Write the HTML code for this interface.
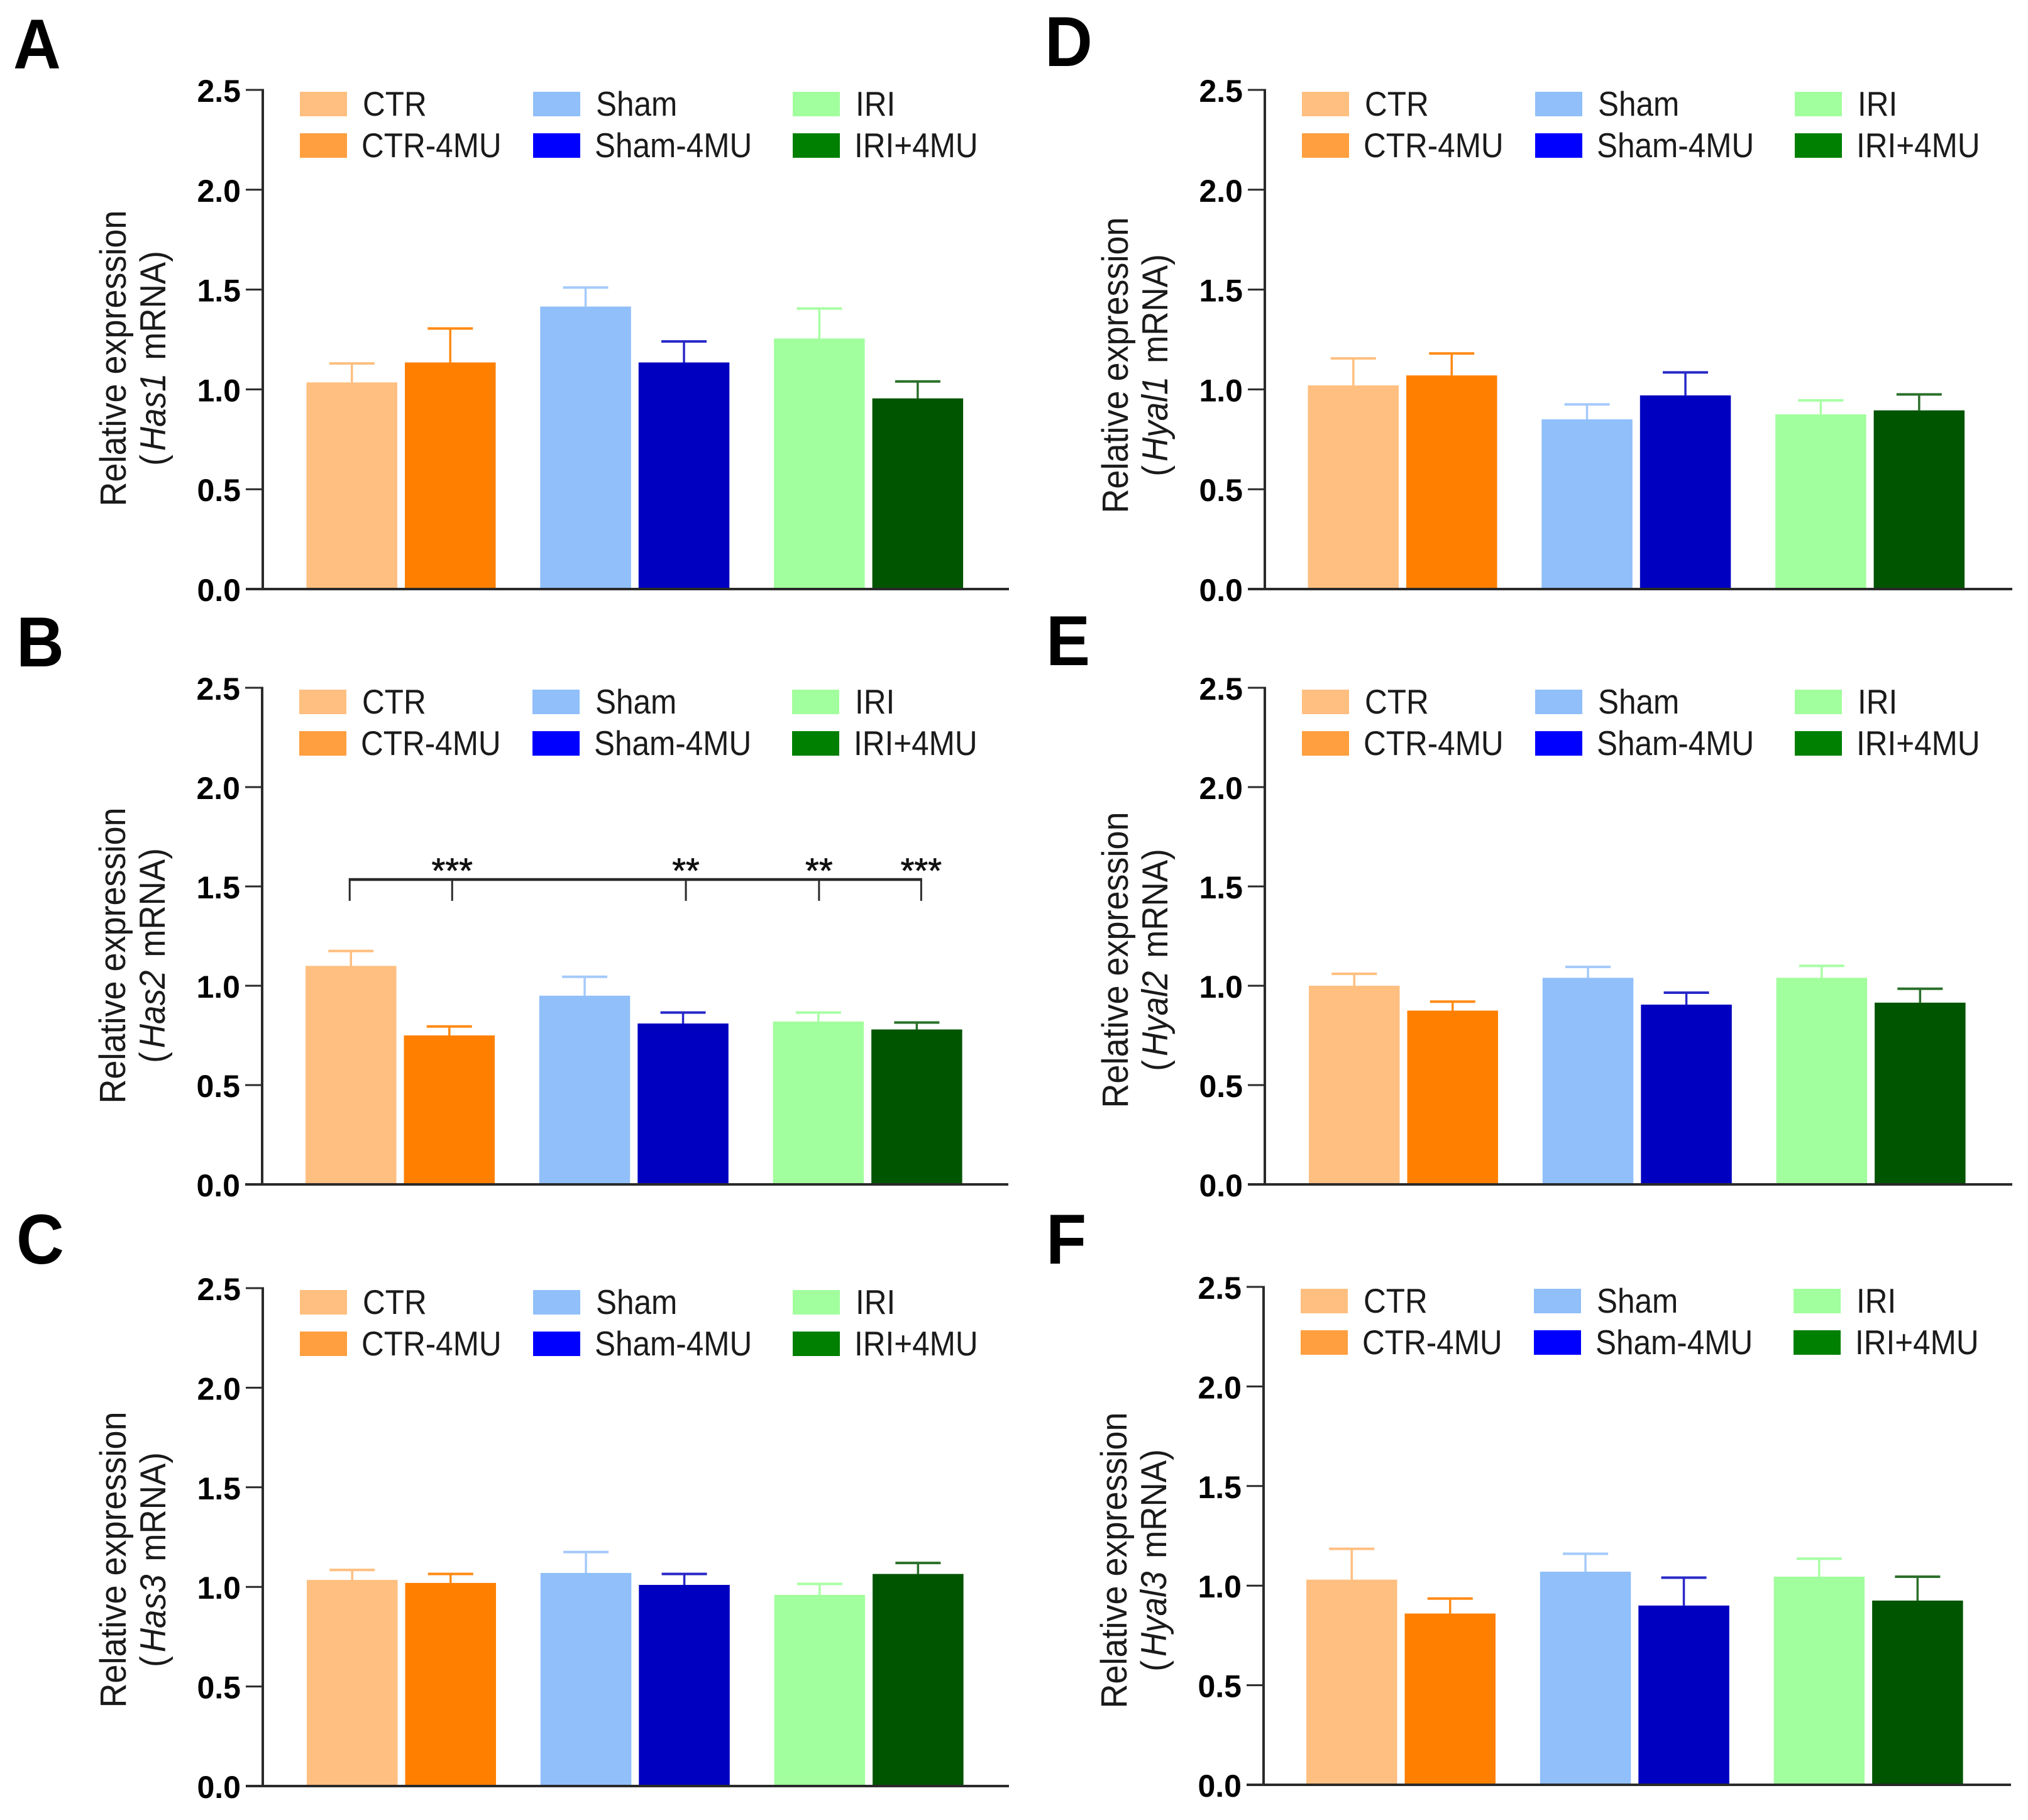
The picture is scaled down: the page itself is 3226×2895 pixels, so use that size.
<!DOCTYPE html>
<html>
<head>
<meta charset="utf-8">
<title>Relative expression of Has and Hyal mRNA</title>
<style>
html,body{margin:0;padding:0;background:#fff;width:3226px;height:2895px;overflow:hidden}
svg{display:block}
text{font-family:"Liberation Sans",sans-serif}
</style>
</head>
<body>
<svg id="figure" xmlns="http://www.w3.org/2000/svg" width="3226" height="2895" viewBox="0 0 3226 2895"></svg>
<script>
const tickLabels = ['0.0', '0.5', '1.0', '1.5', '2.0', '2.5'];
const tickValues = [0, 0.5, 1, 1.5, 2, 2.5];
const categories = ['CTR', 'CTR-4MU', 'Sham', 'Sham-4MU', 'IRI', 'IRI+4MU'];
const barColors = ['#FFBF80', '#FF8000', '#90BFFA', '#0000C0', '#A2FF9D', '#005500'];
const legendColors = ['#FFBF80', '#FF9F40', '#90BFFA', '#0000FF', '#A2FF9D', '#008000'];
const errorColors = ['#FFBF80', '#FF8A14', '#A4CAFA', '#2828C8', '#A8FFA4', '#2A702A'];
const panelLetters = ['A', 'B', 'C', 'D', 'E', 'F'];
const geneNames = ['Has1', 'Has2', 'Has3', 'Hyal1', 'Hyal2', 'Hyal3'];

const meansA = [1.035, 1.135, 1.415, 1.135, 1.255, 0.955];
const meansB = [1.10, 0.75, 0.95, 0.81, 0.82, 0.78];
const meansC = [1.035, 1.02, 1.07, 1.01, 0.96, 1.065];
const meansD = [1.02, 1.07, 0.85, 0.97, 0.875, 0.895];
const meansE = [1.00, 0.875, 1.04, 0.905, 1.04, 0.915];
const meansF = [1.03, 0.86, 1.07, 0.90, 1.045, 0.925];

const errTopA = [1.13, 1.305, 1.51, 1.24, 1.405, 1.04];
const errTopB = [1.175, 0.795, 1.045, 0.865, 0.865, 0.815];
const errTopC = [1.085, 1.065, 1.175, 1.065, 1.015, 1.12];
const errTopD = [1.155, 1.18, 0.925, 1.085, 0.945, 0.975];
const errTopE = [1.06, 0.92, 1.095, 0.965, 1.10, 0.985];
const errTopF = [1.185, 0.935, 1.16, 1.04, 1.135, 1.045];

const sigBars = [1, 3, 4, 5];
const sigLabels = ['***', '**', '**', '***'];
const sigReference = 0;
const sigLevel = 1.535;

const allMeans = [meansA, meansB, meansC, meansD, meansE, meansF];
const allErrTops = [errTopA, errTopB, errTopC, errTopD, errTopE, errTopF];

/* panel frames */
const frames = [
  {axisX: 418, top: 143, bottom: 937, right: 1605, barX: 487.5, letterX: 21, letterY: 109, titleShift: 5},
  {axisX: 417, top: 1094, bottom: 1884, right: 1604, barX: 486, letterX: 26, letterY: 1060, titleShift: 6},
  {axisX: 418, top: 2049, bottom: 2841, right: 1605, barX: 488, letterX: 26, letterY: 2010, titleShift: 11},
  {axisX: 2012, top: 143, bottom: 937, right: 3201, barX: 2080.5, letterX: 1662, letterY: 105, titleShift: 16},
  {axisX: 2012, top: 1094, bottom: 1884, right: 3201, barX: 2082, letterX: 1664, letterY: 1058, titleShift: 13},
  {axisX: 2010, top: 2047, bottom: 2839, right: 3199, barX: 2078, letterX: 1664, letterY: 2010, titleShift: 14}
];
/* hand-drawn annotation offsets of the bracket drops from their bar centres */
const sigNudge = [4.5, 4.5, 1, 7];
const sigRefNudge = -2;

const svgNS = 'http://www.w3.org/2000/svg';
const root = document.getElementById('figure');

function make(tag, attrs, parent) {
  const el = document.createElementNS(svgNS, tag);
  for (const k in attrs) el.setAttribute(k, attrs[k]);
  parent.appendChild(el);
  return el;
}

function yScale(frame, v) {
  return frame.bottom - (frame.bottom - frame.top) * v / 2.5;
}
function xScale(frame, i) {
  const group = Math.floor(i / 2);
  return frame.barX + group * 371.8 + (i % 2) * 156.5;
}
const BAR_W = 144.5;
const AXIS_COLOR = '#2a2a2a';

function drawPanel(p) {
  const f = frames[p];
  const means = allMeans[p];
  const tops = allErrTops[p];
  const g = make('g', {}, root);
  
  

  const letter = make('text', {transform: 'translate(' + f.letterX + ',' + f.letterY + ') scale(1,1.07)', 'font-size': 105, 'font-weight': 'bold', fill: '#000'}, g);
  letter.textContent = panelLetters[p];
  
  

  /* bars */
  means.forEach(function (v, i) {
    const x = xScale(f, i);
    const cx = x + BAR_W / 2;
    const errLine = make('line', {x1: cx, x2: cx, y1: yScale(f, v), y2: yScale(f, tops[i]), stroke: errorColors[i], 'stroke-width': 3.5}, g);
    
    
    const errCap = make('line', {x1: cx - 36, x2: cx + 36, y1: yScale(f, tops[i]), y2: yScale(f, tops[i]), stroke: errorColors[i], 'stroke-width': 4}, g);
    
    
    const bar = make('rect', {x: x, y: yScale(f, v), width: BAR_W, height: f.bottom - yScale(f, v), fill: barColors[i]}, g);
    
    
  });

  /* axes */
  const yAxis = make('line', {x1: f.axisX, x2: f.axisX, y1: f.top - 1.5, y2: f.bottom, stroke: AXIS_COLOR, 'stroke-width': 4}, g);
  
  
  const xAxis = make('line', {x1: f.axisX - 27, x2: f.right, y1: f.bottom, y2: f.bottom, stroke: AXIS_COLOR, 'stroke-width': 4}, g);
  
  

  tickValues.forEach(function (v, i) {
    const y = yScale(f, v);
    const tick = make('line', {x1: f.axisX - 27, x2: f.axisX, y1: y, y2: y, stroke: AXIS_COLOR, 'stroke-width': 3}, g);
    
    
    const lab = make('text', {x: f.axisX - 35, y: y + 19, 'font-size': 50, 'font-weight': 'bold', 'text-anchor': 'end', fill: '#000'}, g);
    lab.textContent = tickLabels[i];
    
    
  });

  /* y title */
  const midY = (f.top + f.bottom) / 2 + 25 + f.titleShift;
  const t1x = f.axisX - 218;
  const t1 = make('text', {transform: 'translate(' + t1x + ',' + midY + ') rotate(-90) scale(1,1.08)', 'text-anchor': 'middle', 'font-size': 54, fill: '#1a1a1a'}, g);
  t1.textContent = 'Relative expression';
  
  
  const t2x = f.axisX - 155;
  const t2 = make('text', {transform: 'translate(' + t2x + ',' + midY + ') rotate(-90) scale(1,1.08)', 'text-anchor': 'middle', 'font-size': 53, fill: '#1a1a1a'}, g);
  
  
  t2.appendChild(document.createTextNode('('));
  const it = make('tspan', {'font-style': 'italic', dx: 6}, t2);
  it.textContent = geneNames[p];
  const rest = make('tspan', {dx: 6}, t2);
  rest.textContent = ' mRNA)';

  /* legend */
  const legendX = [f.axisX + 59, f.axisX + 430, f.axisX + 843];
  const legendTop = f.top + 3;
  categories.forEach(function (name, i) {
    const col = Math.floor(i / 2);
    const row = i % 2;
    const item = make('g', {}, g);
    
    
    make('rect', {x: legendX[col], y: legendTop + row * 66, width: 75, height: 39, fill: legendColors[i]}, item);
    const tx = make('text', {transform: 'translate(' + (legendX[col] + 100 - row * 2) + ',' + (legendTop + row * 66 + 38) + ') scale(1,1.1)', 'font-size': 49.5, fill: '#1a1a1a'}, item);
    tx.textContent = name;
  });

  /* significance bracket */
  if (p === 1) {
    const by = yScale(f, sigLevel);
    const by2 = by + 34;
    const x0 = xScale(f, sigReference) + BAR_W / 2 + sigRefNudge;
    const lastIdx = sigBars.length - 1;
    const xEnd = xScale(f, sigBars[lastIdx]) + BAR_W / 2 + sigNudge[lastIdx];
    const main = make('line', {x1: x0 - 1.5, x2: xEnd + 1.5, y1: by, y2: by, stroke: AXIS_COLOR, 'stroke-width': 4.5}, g);
    
    
    const refDrop = make('line', {x1: x0, x2: x0, y1: by, y2: by2, stroke: AXIS_COLOR, 'stroke-width': 3}, g);
    
    
    sigBars.forEach(function (b, i) {
      const x = xScale(f, b) + BAR_W / 2 + sigNudge[i];
      const drop = make('line', {x1: x, x2: x, y1: by, y2: by2, stroke: AXIS_COLOR, 'stroke-width': 3}, g);
      
      
      const star = make('text', {x: x, y: by + 5, 'font-size': 56, 'text-anchor': 'middle', fill: '#111', stroke: '#111', 'stroke-width': 0.8}, g);
      star.textContent = sigLabels[i];
      
      
    });
  }
}

for (let p = 0; p < 6; p++) drawPanel(p);
</script>
</body>
</html>
